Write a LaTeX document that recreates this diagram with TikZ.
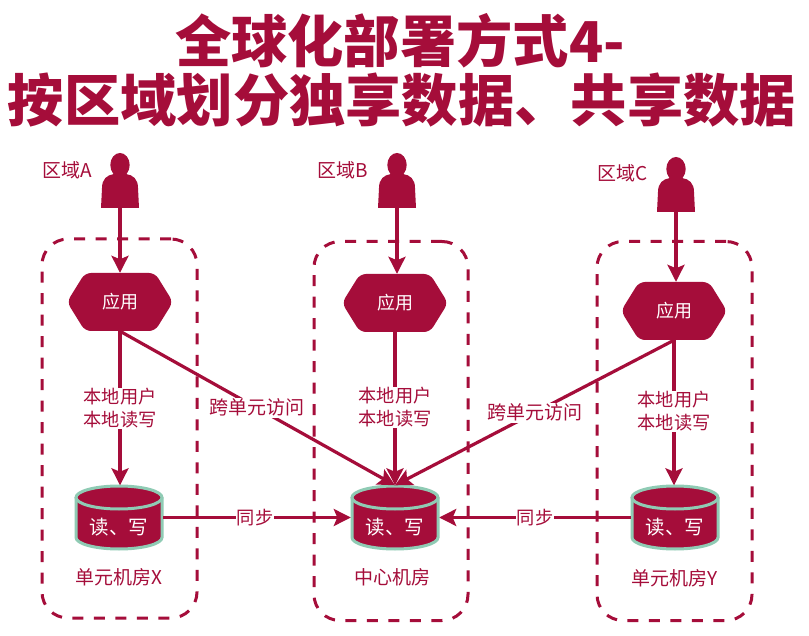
\documentclass[tikz,border=0pt]{standalone}
\usepackage{fontspec}
\setmainfont{Noto Sans CJK SC}
\usetikzlibrary{arrows.meta}
\definecolor{crim}{HTML}{A50D3A}
\definecolor{mint}{HTML}{8FCBB4}
\tikzset{
  x=1pt,y=-1pt,
  zone/.style={draw=crim,line width=3pt,rounded corners=26pt,dash pattern=on 11pt off 10.5pt},
  conn/.style={draw=crim,line width=3.2pt,-{Stealth[length=17pt,width=17pt,inset=3.5pt]}},
  lbl/.style={text=crim,font=\fontsize{19}{22.5}\selectfont,align=center,inner sep=1pt},
  loc/.style={lbl,font=\fontsize{18.2}{22.5}\selectfont},
  wht/.style={text=white,font=\fontsize{18}{22}\selectfont,inner sep=0pt},
  whtb/.style={wht,font=\fontsize{19.5}{22}\selectfont},
  ttl/.style={text=crim,font=\fontsize{56.3}{60}\bfseries\selectfont,inner sep=0pt}
}
% person: name, cx, top y
\newcommand{\person}[3]{%
  \fill[crim] (#2,#3+12) ellipse (9.7 and 12);
  \fill[crim] (#2-19,#3+55) -- (#2-18,#3+35) .. controls (#2-18,#3+26) and (#2-13,#3+22) .. (#2-6,#3+21) -- (#2+6,#3+21) .. controls (#2+13,#3+22) and (#2+18,#3+26) .. (#2+18,#3+35) -- (#2+19,#3+55) -- cycle;
  \node[inner sep=0pt,minimum width=38pt,minimum height=55pt] (#1) at (#2,#3+27.5) {};
}
% hexagon: name, cx, cy, text
\newcommand{\hexa}[4]{%
  \fill[crim,rounded corners=6pt] (#2-53,#3) -- (#2-35,#3-29) -- (#2+35,#3-29) -- (#2+53,#3) -- (#2+35,#3+29) -- (#2-35,#3+29) -- cycle;
  \node[wht,minimum width=104pt,minimum height=58pt] (#1) at (#2,#3) {#4};
}
% cylinder: name, cx, cy, text
\newcommand{\cyl}[4]{%
  \fill[crim] (#2-43,#3-20) -- (#2-43,#3+20) arc[start angle=180,end angle=0,x radius=43,y radius=11.5] -- (#2+43,#3-20) -- cycle;
  \draw[mint,line width=3pt] (#2-43,#3-20) -- (#2-43,#3+20) arc[start angle=180,end angle=0,x radius=43,y radius=11.5] -- (#2+43,#3-20);
  \draw[mint,line width=3pt,fill=crim] (#2,#3-20) ellipse (43 and 11.5);
  \node[wht,minimum width=88pt,minimum height=64pt] (#1) at (#2,#3) {};
  \node[whtb] (#1t) at (#2,#3+9.5) {#4};
}
\begin{document}
\begin{tikzpicture}
\useasboundingbox (0,0) rectangle (809,636);
\fill[white] (0,0) rectangle (809,636);
\node[ttl] (t1) at (400,41) {全球化部署方式4-};
\node[ttl] (t2) at (402,100) {按区域划分独享数据、共享数据};

\node[zone,minimum width=155pt,minimum height=379pt,inner sep=0pt] (za) at (119.5,428.5) {};
\node[zone,minimum width=154pt,minimum height=379pt,inner sep=0pt] (zb) at (391,431) {};
\node[zone,minimum width=155pt,minimum height=379pt,inner sep=0pt] (zc) at (674.5,431) {};

\person{pa}{120}{153}
\person{pb}{397}{153}
\person{pc}{676}{157}

\hexa{ha}{120}{302}{应用}
\hexa{hb}{395}{303}{应用}
\hexa{hc}{674}{311}{应用}

\cyl{ca}{119}{517.5}{读、写}
\cyl{cb}{395}{517.5}{读、写}
\cyl{cc}{675}{517.5}{读、写}

\node[lbl] (ra) at (67,170) {区域A};
\node[lbl] (rb) at (343,170) {区域B};
\node[lbl] (rc) at (623,173) {区域C};
\node[lbl] (na) at (119,577) {单元机房X};
\node[lbl] (nb) at (392,577) {中心机房};
\node[lbl] (nc) at (675,578) {单元机房Y};

\draw[conn] (pa.south) -- (pa.south |- ha.north);
\draw[conn] (pb.south) -- (pb.south |- hb.north);
\draw[conn] (pc.south) -- (pc.south |- hc.north);

\draw[conn] (ha.south) -- (ha.south |- ca.north) node[loc,fill=white,pos=0.5]{本地用户\\本地读写};
\draw[conn] (hb.south) -- (hb.south |- cb.north) node[loc,fill=white,pos=0.49]{本地用户\\本地读写};
\draw[conn] (hc.south) -- (hc.south |- cc.north) node[loc,fill=white,pos=0.49]{本地用户\\本地读写};

\draw[conn] (ha.south) -- (cb.north) node[lbl,fill=white,pos=0.497]{跨单元访问};
\draw[conn] (hc.south) -- (cb.north) node[lbl,fill=white,pos=0.5]{跨单元访问};

\draw[conn] (ca.east) -- (ca.east -| cb.west) node[loc,fill=white,pos=0.49]{同步};
\draw[conn] (cc.west) -- (cc.west -| cb.east) node[loc,fill=white,pos=0.5]{同步};
\end{tikzpicture}
\end{document}
